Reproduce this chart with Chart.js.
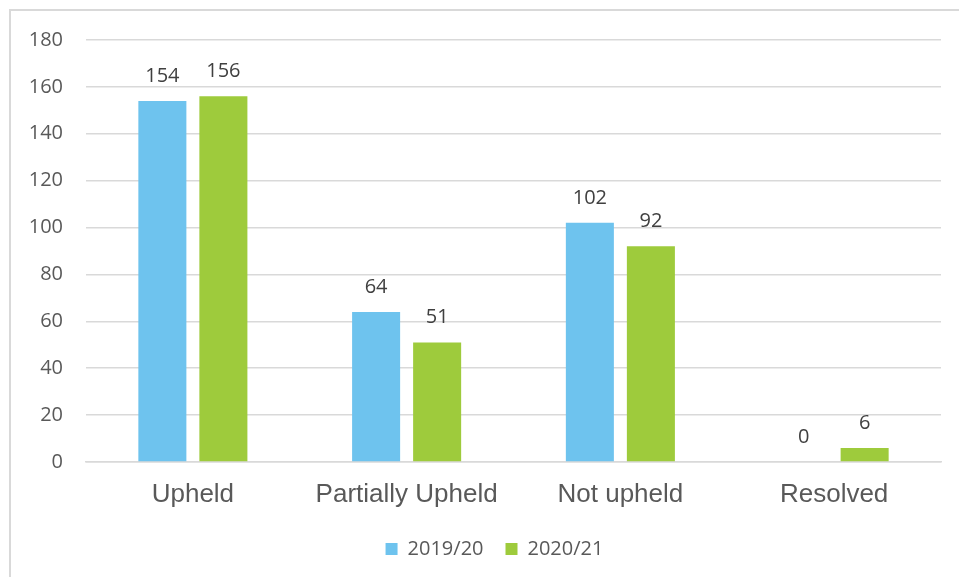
<!DOCTYPE html>
<html>
<head>
<meta charset="utf-8">
<script src="https://cdn.jsdelivr.net/npm/chart.js@4/dist/chart.umd.min.js"></script>
<style>
html,body{margin:0;padding:0;background:#fff;}
#wrap{position:relative;width:959px;height:577px;overflow:hidden;}
#frame{position:absolute;left:9px;top:9px;width:960px;height:600px;border-left:2px solid #d9d9d9;border-top:2px solid #d9d9d9;box-sizing:border-box;}
canvas{position:absolute;left:0;top:0;}
</style>
</head>
<body>
<div id="wrap">
<div id="frame"></div>
<canvas id="c" width="959" height="577"></canvas>
</div>
<script>
const categories = ["Upheld", "Partially Upheld", "Not upheld", "Resolved"];
const series2019 = [154, 64, 102, 0];
const series2020 = [156, 51, 92, 6];
const seriesNames = ["2019/20", "2020/21"];
const yTicks = [0, 20, 40, 60, 80, 100, 120, 140, 160, 180];

const valueLabels = {
  id: 'valueLabels',
  afterDatasetsDraw(chart) {
    const ctx = chart.ctx;
    ctx.save();
    ctx.font = '20px "Open Sans"';
    ctx.fillStyle = '#404040';
    ctx.textAlign = 'center';
    ctx.textBaseline = 'middle';
    chart.data.datasets.forEach((ds, i) => {
      const meta = chart.getDatasetMeta(i);
      meta.data.forEach((bar, j) => {
        ctx.fillText(String(ds.data[j]), bar.x, bar.y - 25);
      });
    });
    ctx.restore();
  }
};

const legendShift = {
  id: 'legendShift',
  afterLayout(chart) {
    if (chart.legend) { chart.legend.left += 24; chart.legend.right += 24; }
  }
};

new Chart(document.getElementById('c'), {
  type: 'bar',
  data: {
    labels: categories,
    datasets: [
      { label: seriesNames[0], data: series2019, backgroundColor: '#6EC3EE', categoryPercentage: 0.571, barPercentage: 0.787 },
      { label: seriesNames[1], data: series2020, backgroundColor: '#9ECB3C', categoryPercentage: 0.571, barPercentage: 0.787 }
    ]
  },
  options: {
    responsive: false,
    animation: false,
    layout: { padding: { top: 40, right: 18, left: 0, bottom: 8 } },
    plugins: {
      legend: {
        position: 'bottom',
        labels: {
          boxWidth: 12, boxHeight: 12,
          color: '#595959',
          font: { family: 'Open Sans', size: 20 },
          padding: 22
        }
      },
      tooltip: { enabled: false }
    },
    scales: {
      x: {
        grid: { display: false, drawTicks: false },
        border: { display: true, color: '#d9d9d9', width: 1.5 },
        ticks: { color: '#595959', font: { family: 'Liberation Sans', size: 26 }, padding: 17, maxRotation: 0 },
        afterFit(s) { s.height = 55; }
      },
      y: {
        min: 0, max: 180,
        afterBuildTicks(s) { s.ticks = yTicks.map(v => ({ value: v })); },
        grid: { color: '#d9d9d9', lineWidth: 1.5, drawTicks: false },
        border: { display: false },
        ticks: { color: '#595959', font: { family: 'Open Sans', size: 20 }, padding: 23 },
        afterFit(s) { s.width = 86; }
      }
    }
  },
  plugins: [valueLabels, legendShift]
});
</script>
</body>
</html>
